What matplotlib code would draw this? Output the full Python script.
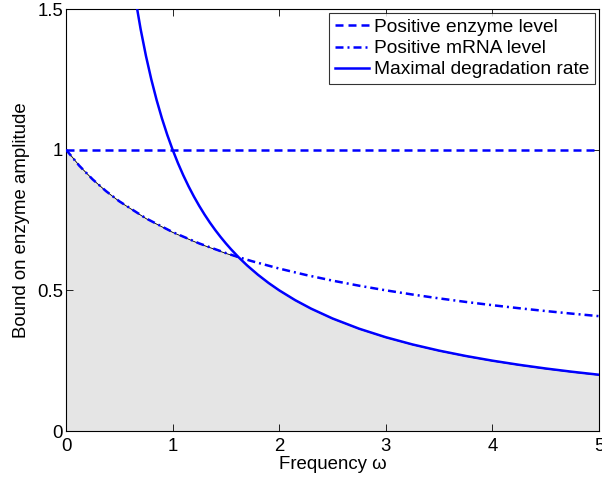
import matplotlib
matplotlib.use("Agg")
import matplotlib.pyplot as plt
import numpy as np

plt.rcParams['font.family'] = ['Liberation Sans', 'DejaVu Sans']

# Data
enzyme_x = [0, 5]
enzyme_y = [1.0, 1.0]

mrna_x = [0, 0.125, 0.25, 0.375, 0.5, 0.75, 1.0, 1.25, 1.5, 1.618, 1.75, 2.0, 2.25, 2.5, 2.75,
          3.0, 3.25, 3.5, 3.75, 4.0, 4.25, 4.5, 4.75, 5.0]
mrna_y = [1.0, 0.9428, 0.8944, 0.8528, 0.8165, 0.7559, 0.7071, 0.6667, 0.6325, 0.6180, 0.6030,
          0.5774, 0.5547, 0.5345, 0.5164, 0.5, 0.4851, 0.4714, 0.4588, 0.4472, 0.4364,
          0.4264, 0.4170, 0.4082]

deg_x = [0.65, 0.7, 0.75, 0.8, 0.85, 0.9, 0.95, 1.0, 1.05, 1.1, 1.15, 1.2, 1.25, 1.3, 1.35,
         1.4, 1.45, 1.5, 1.55, 1.618, 1.7, 1.8, 1.9, 2.0, 2.15, 2.3, 2.5, 2.75, 3.0, 3.25,
         3.5, 3.75, 4.0, 4.25, 4.5, 4.75, 5.0]
deg_y = [1.5385, 1.4286, 1.3333, 1.25, 1.1765, 1.1111, 1.0526, 1.0, 0.9524, 0.9091, 0.8696,
         0.8333, 0.8, 0.7692, 0.7407, 0.7143, 0.6897, 0.6667, 0.6452, 0.6180, 0.5882, 0.5556,
         0.5263, 0.5, 0.4651, 0.4348, 0.4, 0.3636, 0.3333, 0.3077, 0.2857, 0.2667, 0.25,
         0.2353, 0.2222, 0.2105, 0.2]

labels = ['Positive enzyme level', 'Positive mRNA level', 'Maximal degradation rate']

fig = plt.figure(figsize=(6.02, 4.83), dpi=100)
ax = fig.add_axes([66/602, 52/483, 533/602, 422/483])

# shaded feasible region: under mRNA curve until the crossing, then under degradation curve
cross = 1.618
bx = [x for x in mrna_x if x <= cross] + [x for x in deg_x if x > cross]
by = [y for x, y in zip(mrna_x, mrna_y) if x <= cross] + [y for x, y in zip(deg_x, deg_y) if x > cross]
ax.fill_between(bx, 0, by, facecolor='#e5e5e5', edgecolor='black', linewidth=0.6, zorder=1)

lw = 1.8
ax.plot(enzyme_x, enzyme_y, color='#0000ff', lw=lw, dashes=(3.2, 2.0), label=labels[0], zorder=3)
ax.plot(mrna_x, mrna_y, color='#0000ff', lw=lw, dashes=(3.2, 1.6, 0.8, 1.6), label=labels[1], zorder=3)
ax.plot(deg_x, deg_y, color='#0000ff', lw=lw, label=labels[2], zorder=3)

fs = 13.4
ax.set_xlim(0, 5)
ax.set_ylim(0, 1.5)
ax.set_xticks([0, 1, 2, 3, 4, 5])
ax.set_yticks([0, 0.5, 1, 1.5])
ax.set_yticklabels(['0', '0.5', '1', '1.5'])
ax.tick_params(direction='in', top=True, right=True, labelsize=fs, length=5, width=0.6)
ax.tick_params(axis='x', pad=5.3)
ax.tick_params(axis='y', pad=2)
for s in ax.spines.values():
    s.set_linewidth(0.8)

ax.set_xlabel('Frequency ω', fontsize=fs, labelpad=0.5)
ax.set_ylabel('Bound on enzyme amplitude', fontsize=fs, labelpad=5.5)

leg = ax.legend(loc='upper right', fontsize=13.8, frameon=True, fancybox=False,
                edgecolor='black', handlelength=1.8, handletextpad=0.26, borderpad=0.3,
                labelspacing=0.2, borderaxespad=0.2)
leg.get_frame().set_linewidth(0.8)

fig.savefig('out.png', dpi=100)
